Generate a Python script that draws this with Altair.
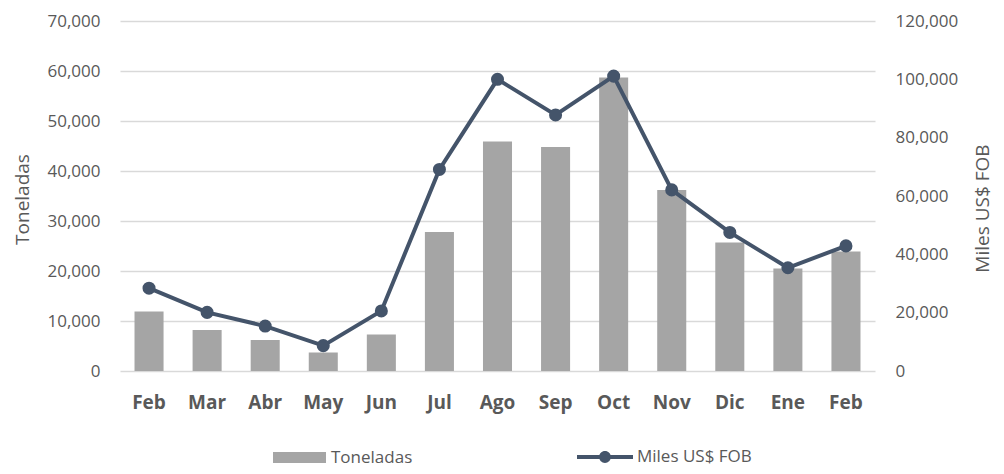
import altair as alt
import pandas as pd

months = ["Feb", "Mar", "Abr", "May", "Jun", "Jul", "Ago", "Sep", "Oct", "Nov", "Dic", "Ene", "Feb"]
toneladas = [11900, 8200, 6200, 3700, 7300, 27800, 45900, 44800, 58700, 36200, 25700, 20500, 23900]
miles_fob = [28400, 20100, 15400, 8700, 20600, 69100, 100000, 87800, 101100, 62100, 47500, 35400, 42900]

keys = [f"{i:02d}|{m}" for i, m in enumerate(months)]
df = pd.DataFrame({
    "key": keys,
    "Toneladas": toneladas,
    "Miles": miles_fob,
    "s1": ["Toneladas"] * len(keys),
    "s2": ["Miles US$ FOB"] * len(keys),
})

FONT = "Open Sans"
TXT = "#595959"
BAR = "#a5a5a5"
LINE = "#44546a"

x = alt.X(
    "key:N", sort=None, title=None,
    scale=alt.Scale(paddingInner=0.5, paddingOuter=0.25),
    axis=alt.Axis(labelExpr="split(datum.label,'|')[1]", labelAngle=0, labelFontWeight="bold",
                  labelFontSize=19, labelColor=TXT, labelFont=FONT, ticks=False, domain=False,
                  labelPadding=22),
)

bar_path = "M-1,-0.21 L1,-0.21 L1,0.21 L-1,0.21 Z"
line_path = ("M-1,-0.07 L-0.18,-0.07 L-0.18,0.07 L-1,0.07 Z "
             "M0.18,-0.07 L1,-0.07 L1,0.07 L0.18,0.07 Z "
             "M-0.21,0 A0.21,0.21 0 1,1 0.21,0 A0.21,0.21 0 1,1 -0.21,0 Z")

bars = alt.Chart(df).mark_bar(color=BAR).encode(
    x=x,
    y=alt.Y("Toneladas:Q",
            scale=alt.Scale(domain=[0, 70000], nice=False),
            axis=alt.Axis(values=list(range(0, 70001, 10000)), format=",d", grid=True,
                          gridColor="#d9d9d9", gridWidth=1.5, domain=False, ticks=False,
                          labelFontSize=17, labelColor=TXT, labelFont=FONT, labelPadding=20,
                          title="Toneladas", titleFontSize=19, titleFontWeight="normal",
                          titleColor=TXT, titleFont=FONT, titleX=-98, titleY=178,
                          titleBaseline="middle")),
    color=alt.Color("s1:N", scale=alt.Scale(domain=["Toneladas"], range=[BAR]),
                    legend=alt.Legend(title=None, orient="none", legendX=153, legendY=410,
                                      symbolType=bar_path, symbolSize=2809, symbolStrokeWidth=0,
                                      labelFontSize=17, labelColor=TXT, labelFont=FONT,
                                      labelOffset=5)),
)

yr = alt.Y("Miles:Q",
           scale=alt.Scale(domain=[0, 120000], nice=False),
           axis=alt.Axis(orient="right", values=list(range(0, 120001, 20000)), format=",d",
                         grid=False, domain=False, ticks=False,
                         labelFontSize=17, labelColor=TXT, labelFont=FONT, labelPadding=20,
                         title="Miles US$ FOB", titleFontSize=19, titleFontWeight="normal",
                         titleColor=TXT, titleFont=FONT, titleX=107, titleY=187,
                         titleAngle=270, titleBaseline="middle"))

line = alt.Chart(df).mark_line(color=LINE, strokeWidth=4).encode(x=x, y=yr)
pts = alt.Chart(df).mark_point(filled=True, size=170, opacity=1).encode(
    x=x, y=yr,
    fill=alt.Fill("s2:N", scale=alt.Scale(domain=["Miles US$ FOB"], range=[LINE]),
                  legend=alt.Legend(title=None, orient="none", legendX=457, legendY=408,
                                    symbolType=line_path, symbolSize=3136, symbolStrokeWidth=0,
                                    symbolOpacity=1,
                                    labelFontSize=17, labelColor=TXT, labelFont=FONT,
                                    labelOffset=4)),
)

right = alt.layer(line, pts)

chart = alt.layer(bars, right).resolve_scale(
    y="independent", color="independent", fill="independent"
).properties(
    width=755, height=350,
    background="white",
    autosize=alt.AutoSizeParams(type="none"),
    padding={"left": 112, "top": 13, "right": 121, "bottom": 95},
).configure_view(stroke=None)

chart.save("out.html", embed_options={"renderer": "svg", "actions": False})
